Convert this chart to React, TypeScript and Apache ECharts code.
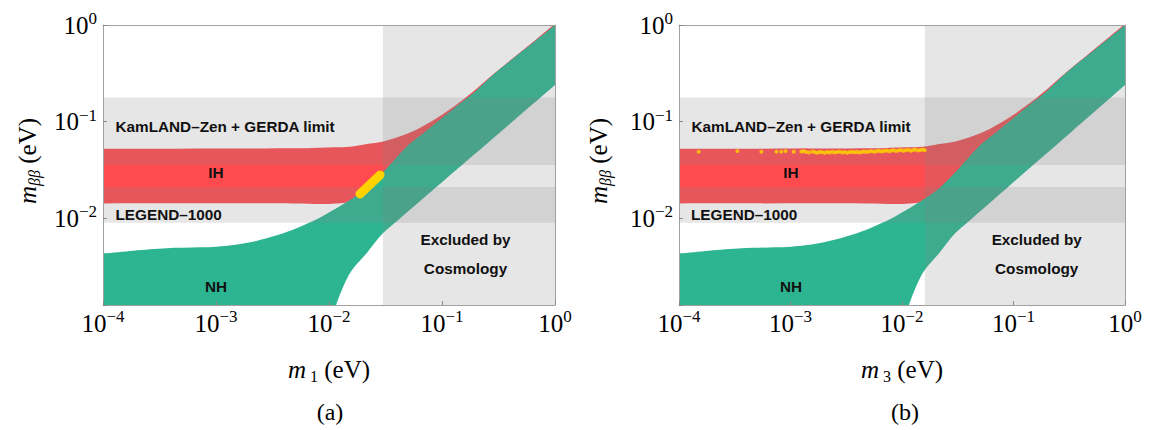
import React, { useEffect, useRef } from 'react';
import * as echarts from 'echarts';

// ---------- data (lightest neutrino mass in eV vs m_bb in eV) ----------
// Normal hierarchy band (green); first/last points lie outside the visible range
const nhUpperM = [3e-5, 1e-4, 1.853e-4, 3.66e-4, 7.22e-4, 1.015e-3, 1.422e-3, 2.0e-3, 2.81e-3, 3.94e-3, 5.54e-3, 7.78e-3, 1.092e-2, 1.534e-2, 2.157e-2, 3.023e-2, 5.04e-2, 7.08e-2, 9.93e-2, 0.139, 0.196, 0.294, 1.0, 3.0];
const nhUpperMbb = [0.00432, 0.00432, 0.0046, 0.00487, 0.00498, 0.00506, 0.00526, 0.00562, 0.00618, 0.00696, 0.00814, 0.00972, 0.01213, 0.0154, 0.02035, 0.0300, 0.0572, 0.0785, 0.108, 0.1484, 0.2037, 0.316, 1.0, 3.0];
const nhLowerM = [3e-5, 1e-4, 9.5e-3, 1.08e-2, 1.17e-2, 1.535e-2, 2.16e-2, 3.01e-2, 4.25e-2, 8.32e-2, 0.166, 0.326, 1.0, 3.0];
const nhLowerMbb = [0.0005, 0.0005, 0.0005, 0.0009, 0.00132, 0.0027, 0.00436, 0.00701, 0.00993, 0.01954, 0.0392, 0.0772, 0.239, 0.72];

// Inverted hierarchy band (red)
const ihUpperM = [3e-5, 1e-4, 5.54e-3, 1.092e-2, 1.534e-2, 2.157e-2, 3.023e-2, 5.04e-2, 7.08e-2, 9.93e-2, 0.139, 0.196, 0.275, 1.0, 3.0];
const ihUpperMbb = [0.0523, 0.0523, 0.0528, 0.0541, 0.0549, 0.0585, 0.0621, 0.0755, 0.0921, 0.1169, 0.1545, 0.2122, 0.30, 1.03, 3.1];
const ihLowerM = [3e-5, 1e-4, 5e-3, 1.08e-2, 2.16e-2, 3.01e-2, 6e-2, 0.1, 0.3, 1.0, 3.0];
const ihLowerMbb = [0.0142, 0.0142, 0.0142, 0.0141, 0.0155, 0.018, 0.024, 0.033, 0.09, 0.28, 0.84];

// Experimental limits / sensitivities (m_bb ranges, eV)
const kamlandRange = [0.0355, 0.177];
const legendRange = [0.00896, 0.021];
// Cosmology exclusion (lightest mass above this value, eV)
const cosmoLimitA = 0.03;
const cosmoLimitB = 0.016;

// Axis ranges
const xRange = [1e-4, 1];
const yRange = [Math.pow(10, -2.9), 1];

// Yellow points
const yellowA = [[0.0188, 0.0178], [0.0283, 0.0280]];
const yellowB = [
  [1.50e-4, 0.0486], [3.34e-4, 0.0494], [5.48e-4, 0.0486], [7.48e-4, 0.0488], [8.28e-4, 0.0488], [9.05e-4, 0.0494],
  [1.07e-3, 0.0486], [1.25e-3, 0.0488], [1.31e-3, 0.0494], [1.38e-3, 0.0484], [1.47e-3, 0.0478], [1.58e-3, 0.0490],
  [1.66e-3, 0.0482], [1.75e-3, 0.0476], [1.84e-3, 0.0487], [1.93e-3, 0.0480], [2.03e-3, 0.0474], [2.14e-3, 0.0485],
  [2.25e-3, 0.0479], [2.37e-3, 0.0486], [2.49e-3, 0.0477], [2.62e-3, 0.0483], [2.76e-3, 0.0488], [2.90e-3, 0.0479],
  [3.05e-3, 0.0484], [3.21e-3, 0.0476], [3.38e-3, 0.0482], [3.55e-3, 0.0487], [3.74e-3, 0.0480], [3.93e-3, 0.0485],
  [4.14e-3, 0.0479], [4.35e-3, 0.0484], [4.58e-3, 0.0489], [4.82e-3, 0.0483], [5.07e-3, 0.0490], [5.33e-3, 0.0494],
  [5.61e-3, 0.0487], [5.90e-3, 0.0493], [6.20e-3, 0.0498], [6.53e-3, 0.0490], [6.87e-3, 0.0496], [7.22e-3, 0.0501],
  [7.60e-3, 0.0492], [7.99e-3, 0.0499], [8.40e-3, 0.0504], [8.84e-3, 0.0495], [9.30e-3, 0.0502], [9.78e-3, 0.0507],
  [1.03e-2, 0.0497], [1.08e-2, 0.0504], [1.14e-2, 0.0509], [1.20e-2, 0.0499], [1.26e-2, 0.0506], [1.32e-2, 0.0512],
  [1.39e-2, 0.0501], [1.46e-2, 0.0508], [1.53e-2, 0.0514], [1.60e-2, 0.0505],
];

const textLabels = {
  kamland: 'KamLAND–Zen + GERDA limit',
  legend: 'LEGEND–1000',
  ih: 'IH',
  nh: 'NH',
  cosmo1: 'Excluded by',
  cosmo2: 'Cosmology',
};

// ---------- styling ----------
const RED = '#ff4b50';
const GREEN = '#2db592';
const GREY = 'rgba(128,128,128,0.2)';
const YELLOW = '#ffd200';
const FRAME = '#a0a0a0';
const SERIF = "'Liberation Serif', 'Times New Roman', serif";
const SANS = "'Liberation Sans', Arial, sans-serif";

function bandRender(ux: number[], uy: number[], lx: number[], ly: number[], color: string) {
  return (_params: any, api: any) => {
    const pts: number[][] = [];
    for (let i = 0; i < ux.length; i++) pts.push(api.coord([ux[i], uy[i]]));
    for (let i = lx.length - 1; i >= 0; i--) pts.push(api.coord([lx[i], ly[i]]));
    return { type: 'polygon', shape: { points: pts, smooth: 0.3 }, style: { fill: color } };
  };
}

function rectRender(x0: number, x1: number, y0: number, y1: number, color: string) {
  return (_params: any, api: any) => {
    const pts = [api.coord([x0, y0]), api.coord([x1, y0]), api.coord([x1, y1]), api.coord([x0, y1])];
    return { type: 'polygon', shape: { points: pts }, style: { fill: color } };
  };
}

const tickRich = {
  b: { fontFamily: SERIF, fontSize: 25, lineHeight: 30, color: '#000' },
  s: { fontFamily: SERIF, fontSize: 17, lineHeight: 18, verticalAlign: 'top', color: '#000' },
};

function decadeFormatter(v: number) {
  const l = Math.log10(v);
  const e = Math.round(l);
  if (Math.abs(l - e) > 1e-6) return '';
  return `{b|10}{s|${e < 0 ? '−' : ''}${Math.abs(e)}}`;
}

function panelSeries(idx: number, cosmo: number) {
  const base = { type: 'custom', xAxisIndex: idx, yAxisIndex: idx, clip: true, data: [[1e-2, 1e-2]], silent: true };
  return [
    { ...base, renderItem: bandRender(ihUpperM, ihUpperMbb, ihLowerM, ihLowerMbb, RED) },
    { ...base, renderItem: bandRender(nhUpperM, nhUpperMbb, nhLowerM, nhLowerMbb, GREEN) },
    { ...base, renderItem: rectRender(xRange[0], xRange[1], kamlandRange[0], kamlandRange[1], GREY) },
    { ...base, renderItem: rectRender(xRange[0], xRange[1], legendRange[0], legendRange[1], GREY) },
    { ...base, renderItem: rectRender(cosmo, xRange[1], yRange[0], yRange[1], GREY) },
  ];
}

function xAxisMain(idx: number) {
  return {
    gridIndex: idx, type: 'log', logBase: 10, min: xRange[0], max: xRange[1], position: 'bottom', z: 10,
    axisLine: { show: true, lineStyle: { color: FRAME, width: 1 } },
    axisTick: { show: true, inside: true, length: 4, lineStyle: { color: '#888' } },
    minorTick: { show: false }, splitLine: { show: false },
    axisLabel: { show: true, margin: 3, formatter: decadeFormatter, rich: tickRich, showMinLabel: true, showMaxLabel: true },
  };
}
function yAxisMain(idx: number) {
  return {
    gridIndex: idx, type: 'log', logBase: 10, min: yRange[0], max: yRange[1], position: 'left', z: 10,
    axisLine: { show: true, lineStyle: { color: FRAME, width: 1 } },
    axisTick: { show: true, inside: true, length: 4, lineStyle: { color: '#888' } },
    minorTick: { show: false }, splitLine: { show: false },
    axisLabel: { show: true, margin: 6, formatter: decadeFormatter, rich: tickRich, showMinLabel: true, showMaxLabel: true },
  };
}
function frameAxis(idx: number, kind: 'x' | 'y') {
  return {
    gridIndex: idx, type: 'log', logBase: 10,
    min: kind === 'x' ? xRange[0] : yRange[0], max: kind === 'x' ? xRange[1] : yRange[1],
    position: kind === 'x' ? 'top' : 'right', z: 10,
    axisLine: { show: true, lineStyle: { color: FRAME, width: 1 } },
    axisTick: { show: false }, axisLabel: { show: false }, splitLine: { show: false }, minorTick: { show: false },
  };
}

function label(text: string, x: number, y: number, align: string) {
  return {
    type: 'text', x, y, z: 100,
    style: { text, fontFamily: SANS, fontWeight: 'bold', fontSize: 15.3, fill: '#111', align, verticalAlign: 'middle' },
  };
}

const nameRich = {
  i: { fontFamily: SERIF, fontStyle: 'italic', fontSize: 25, lineHeight: 30, color: '#000' },
  sub: { fontFamily: SERIF, fontSize: 16, lineHeight: 12, verticalAlign: 'bottom', color: '#000' },
  subi: { fontFamily: SERIF, fontStyle: 'italic', fontSize: 16, lineHeight: 12, verticalAlign: 'bottom', color: '#000' },
  n: { fontFamily: SERIF, fontSize: 25, lineHeight: 30, color: '#000' },
};

function richText(text: string, x: number, y: number, rotation = 0) {
  return {
    type: 'text', x, y, rotation, z: 100,
    style: { text, rich: nameRich, align: 'center', verticalAlign: 'middle', fill: '#000' },
  };
}

function caption(text: string, x: number, y: number) {
  return {
    type: 'text', x, y, z: 100,
    style: { text, fontFamily: SERIF, fontSize: 24, fill: '#000', align: 'center', verticalAlign: 'middle' },
  };
}

export default function App() {
  const ref = useRef<HTMLDivElement>(null);
  useEffect(() => {
    if (!ref.current) return;
    const chart = echarts.init(ref.current, null, { renderer: 'svg' });
    const option: any = {
      animation: false,
      backgroundColor: '#fff',
      grid: [
        { left: 103, top: 25, width: 452, height: 280, outerBoundsMode: 'none', containLabel: false },
        { left: 679, top: 25, width: 446, height: 280, outerBoundsMode: 'none', containLabel: false },
      ],
      xAxis: [xAxisMain(0), xAxisMain(1), frameAxis(0, 'x'), frameAxis(1, 'x')],
      yAxis: [yAxisMain(0), yAxisMain(1), frameAxis(0, 'y'), frameAxis(1, 'y')],
      series: [
        ...panelSeries(0, cosmoLimitA),
        {
          type: 'line', xAxisIndex: 0, yAxisIndex: 0, data: yellowA, showSymbol: false, silent: true,
          lineStyle: { color: YELLOW, width: 9, cap: 'round' }, z: 3,
        },
        ...panelSeries(1, cosmoLimitB),
        {
          type: 'scatter', xAxisIndex: 1, yAxisIndex: 1, data: yellowB, symbol: 'circle', symbolSize: 4,
          itemStyle: { color: YELLOW }, silent: true, z: 3,
        },
      ],
      graphic: [
        label(textLabels.kamland, 115.5, 126.7, 'left'),
        label(textLabels.ih, 216, 172.5, 'center'),
        label(textLabels.legend, 115.5, 214, 'left'),
        label(textLabels.nh, 216, 286.5, 'center'),
        label(textLabels.cosmo1, 465.5, 239.5, 'center'),
        label(textLabels.cosmo2, 465.5, 268, 'center'),
        label(textLabels.kamland, 691.5, 126.7, 'left'),
        label(textLabels.ih, 791, 172.5, 'center'),
        label(textLabels.legend, 691, 214, 'left'),
        label(textLabels.nh, 791, 286.5, 'center'),
        label(textLabels.cosmo1, 1036.7, 239.5, 'center'),
        label(textLabels.cosmo2, 1036.7, 268, 'center'),
        richText('{i|m}{sub| 1}{n| (eV)}', 329, 369),
        richText('{i|m}{sub| 3}{n| (eV)}', 902, 369),
        richText('{i|m}{subi|ββ}{n| (eV)}', 27, 161, Math.PI / 2),
        richText('{i|m}{subi|ββ}{n| (eV)}', 598, 161, Math.PI / 2),
        caption('(a)', 330, 412),
        caption('(b)', 905, 412),
      ],
    };
    chart.setOption(option);
    return () => chart.dispose();
  }, []);
  return (
    <div
      ref={ref}
      style={{ position: 'fixed', left: 0, top: 0, width: 1153, height: 430, background: '#fff' }}
    />
  );
}
